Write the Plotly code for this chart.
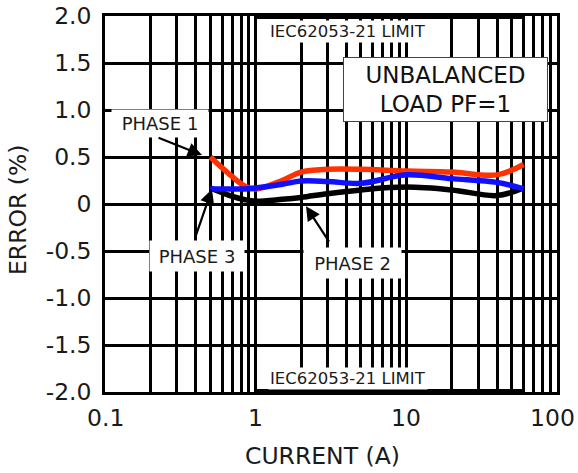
import math
import plotly.graph_objects as go

current = [0.5, 0.7, 0.85, 1, 1.5, 2, 3, 5, 10, 20, 40, 60]
phase1 = [0.50, 0.29, 0.19, 0.16, 0.25, 0.34, 0.37, 0.37, 0.35, 0.34, 0.31, 0.42]
phase3 = [0.16, 0.16, 0.16, 0.17, 0.21, 0.245, 0.24, 0.22, 0.31, 0.27, 0.23, 0.16]
phase2 = [0.17, 0.08, 0.045, 0.03, 0.05, 0.07, 0.11, 0.15, 0.18, 0.15, 0.09, 0.17]

limit_x = [1, 60]
limit_upper = [2.0, 2.0]
limit_lower = [-2.0, -2.0]

x_grid = [m * 10.0 ** e for e in (-1, 0, 1) for m in range(1, 10)] + [100]
x_tick_vals = [0.1, 1, 10, 100]
x_tick_text = ["0.1", "1", "10", "100"]
y_ticks = [2.0, 1.5, 1.0, 0.5, 0, -0.5, -1.0, -1.5, -2.0]
y_labels = ["2.0", "1.5", "1.0", "0.5", "0", "-0.5", "-1.0", "-1.5", "-2.0"]

FONT = "DejaVu Sans"
TXT = "#1a1a1a"
BIG = 23.5

fig = go.Figure()
for ly in (limit_upper, limit_lower):
    fig.add_trace(go.Scatter(x=limit_x, y=ly, mode="lines",
                             line=dict(color="black", width=6), showlegend=False))

fig.add_trace(go.Scatter(x=current, y=phase2, mode="lines",
                         line=dict(color="black", width=5.5, shape="spline"), showlegend=False))
fig.add_trace(go.Scatter(x=current, y=phase1, mode="lines",
                         line=dict(color="#FF3300", width=5.5, shape="spline"), showlegend=False))
fig.add_trace(go.Scatter(x=current, y=phase3, mode="lines",
                         line=dict(color="#1010FF", width=5.5, shape="spline"), showlegend=False))

fig.update_xaxes(type="log", range=[-1, 2], tickvals=x_grid, showticklabels=False,
                 showgrid=True, gridcolor="black", gridwidth=2.5,
                 showline=True, linecolor="black", linewidth=2.5, mirror=True,
                 ticks="", zeroline=False, automargin=False)
fig.update_yaxes(range=[-2, 2], tickvals=y_ticks, ticktext=y_labels,
                 showgrid=True, gridcolor="black", gridwidth=2.5,
                 showline=True, linecolor="black", linewidth=2.5, mirror=True,
                 ticks="", zeroline=False, automargin=False, ticklabelstandoff=6,
                 tickfont=dict(family=FONT, size=BIG, color=TXT))

ann = []
# x tick labels (last one nudged inward so it stays inside the page)
for v, t in zip(x_tick_vals, x_tick_text):
    ann.append(dict(x=math.log10(v), y=-0.069, xref="x", yref="paper", text=t,
                    showarrow=False, xanchor="center", yanchor="middle",
                    xshift=-5 if v == x_tick_vals[-1] else 0,
                    font=dict(family=FONT, size=BIG, color=TXT)))
# axis titles
ann.append(dict(x=0.482, y=-0.170, xref="paper", yref="paper", text="CURRENT (A)",
                showarrow=False, xanchor="center", yanchor="middle",
                font=dict(family=FONT, size=BIG, color=TXT)))
ann.append(dict(x=-0.1925, y=0.484, xref="paper", yref="paper", text="ERROR (%)",
                showarrow=False, xanchor="center", yanchor="middle", textangle=-90,
                font=dict(family=FONT, size=BIG, color=TXT)))

small = dict(family=FONT, size=16.5, color=TXT)
ann.append(dict(x=0.616, y=1.84, xref="x", yref="y", text="IEC62053-21 LIMIT", showarrow=False,
                font=small, bgcolor="white", borderpad=1))
ann.append(dict(x=0.616, y=-1.855, xref="x", yref="y", text="IEC62053-21 LIMIT", showarrow=False,
                font=small, bgcolor="white", borderpad=1))
ann.append(dict(x=1.263, y=1.217, xref="x", yref="y", text="UNBALANCED<br>LOAD PF=1", showarrow=False,
                font=dict(family=FONT, size=23, color="#111"), bgcolor="white",
                bordercolor="#444", borderwidth=1, width=201, height=61))
lab = dict(family=FONT, size=18, color=TXT)
ann.append(dict(x=-0.635, y=0.86, xref="x", yref="y", text="PHASE 1", showarrow=False,
                font=lab, bgcolor="white", width=94, height=25))
ann.append(dict(x=-0.389, y=-0.555, xref="x", yref="y", text="PHASE 3", showarrow=False,
                font=lab, bgcolor="white", width=92, height=28))
ann.append(dict(x=0.64, y=-0.625, xref="x", yref="y", text="PHASE 2", showarrow=False,
                font=lab, bgcolor="white", width=95, height=28))
arrow = dict(xref="x", yref="y", text="", showarrow=True, arrowhead=2, arrowsize=1.3,
             arrowwidth=2.2, arrowcolor="black")
ann.append(dict(arrow, x=-0.356, y=0.52, ax=-45, ay=-18))
ann.append(dict(arrow, x=-0.29, y=0.158, ax=-17, ay=49))
ann.append(dict(arrow, x=0.334, y=-0.023, ax=24, ay=37))

fig.update_layout(width=578, height=473, margin=dict(l=105, r=21, t=16, b=81),
                  paper_bgcolor="white", plot_bgcolor="white", annotations=ann,
                  showlegend=False)

fig.write_html("out.html", config={"displayModeBar": False},
               post_script="document.documentElement.style.margin='0';"
                           "document.body.style.margin='0';"
                           "document.body.style.padding='0';")
